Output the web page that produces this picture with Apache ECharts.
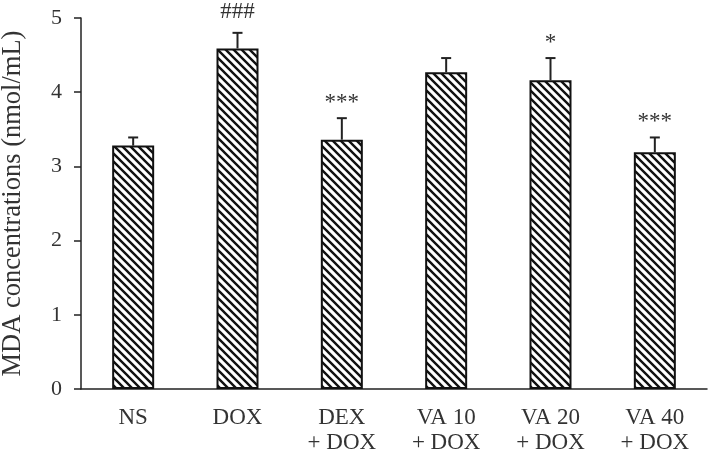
<!DOCTYPE html>
<html>
<head>
<meta charset="utf-8">
<script src="https://cdn.jsdelivr.net/npm/echarts@6/dist/echarts.min.js"></script>
<style>
  html, body { margin: 0; padding: 0; background: #fff; }
  #chart { width: 709px; height: 455px; }
</style>
</head>
<body>
<div id="chart"></div>
<script>
const categories = ['NS', 'DOX', 'DEX\n+ DOX', 'VA 10\n+ DOX', 'VA 20\n+ DOX', 'VA 40\n+ DOX'];
const mdaMeans = [3.28, 4.59, 3.36, 4.27, 4.16, 3.19];
const mdaErrors = [0.11, 0.21, 0.29, 0.19, 0.30, 0.20];
const marks = ['', '###', '***', '', '*', '***'];
const yTicks = [0, 1, 2, 3, 4, 5];

const FONT = '"Liberation Serif", "Times New Roman", serif';

// diagonal hatch tile
function makeHatch() {
  const s = 8;
  const c = document.createElement('canvas');
  c.width = s;
  c.height = s;
  const ctx = c.getContext('2d');
  ctx.fillStyle = '#fff';
  ctx.fillRect(0, 0, s, s);
  ctx.strokeStyle = '#111';
  ctx.lineWidth = 2.4;
  ctx.beginPath();
  ctx.moveTo(-2, -2); ctx.lineTo(s + 2, s + 2);
  ctx.moveTo(-2, s - 2); ctx.lineTo(2, s + 2);
  ctx.moveTo(s - 2, -2); ctx.lineTo(s + 2, 2);
  ctx.stroke();
  return c;
}

const chart = echarts.init(document.getElementById('chart'));

const errData = categories.map((c, i) => [i, mdaMeans[i], mdaErrors[i]]);

chart.setOption({
  animation: false,
  backgroundColor: '#fff',
  grid: { left: 81, right: 2, top: 18, bottom: 66, containLabel: false, outerBoundsMode: 'none' },
  xAxis: {
    type: 'category',
    data: categories,
    axisTick: { show: false },
    axisLine: { lineStyle: { color: '#222', width: 1.5 } },
    axisLabel: {
      margin: 16,
      fontFamily: FONT,
      fontSize: 23,
      lineHeight: 25,
      color: '#333',
      interval: 0
    }
  },
  yAxis: {
    type: 'value',
    min: 0,
    max: 5,
    interval: 1,
    name: 'MDA concentrations (nmol/mL)',
    nameLocation: 'middle',
    nameGap: 54,
    nameTextStyle: { fontFamily: FONT, fontSize: 26.5, color: '#333' },
    axisLine: { show: true, lineStyle: { color: '#222', width: 1.5 } },
    axisTick: { show: true, inside: false, length: 7, lineStyle: { color: '#222', width: 1.5 } },
    axisLabel: {
      margin: 19,
      fontFamily: FONT,
      fontSize: 22,
      color: '#333',
      formatter: v => (yTicks.indexOf(v) >= 0 ? String(v) : '')
    },
    splitLine: { show: false }
  },
  series: [
    {
      type: 'bar',
      data: mdaMeans,
      barWidth: 42,
      itemStyle: {
        color: { image: makeHatch(), repeat: 'repeat' },
        borderColor: '#111',
        borderWidth: 2
      }
    },
    {
      type: 'custom',
      data: errData,
      z: 5,
      renderItem: function (params, api) {
        const i = api.value(0);
        const m = api.value(1);
        const e = api.value(2);
        const label = marks[params.dataIndex];
        const base = api.coord([i, m]);
        const top = api.coord([i, m + e]);
        const hw = 5;
        const children = [
          { type: 'line', shape: { x1: base[0], y1: base[1], x2: top[0], y2: top[1] },
            style: { stroke: '#222', lineWidth: 2 } },
          { type: 'line', shape: { x1: top[0] - hw, y1: top[1], x2: top[0] + hw, y2: top[1] },
            style: { stroke: '#222', lineWidth: 2 } }
        ];
        if (label) {
          children.push({
            type: 'text',
            style: {
              text: label,
              x: top[0],
              y: top[1] - (label[0] === '#' ? 9 : 4),
              align: 'center',
              verticalAlign: 'bottom',
              font: '23px ' + FONT,
              fill: '#333'
            }
          });
        }
        return { type: 'group', children: children };
      }
    }
  ]
});
</script>
</body>
</html>
